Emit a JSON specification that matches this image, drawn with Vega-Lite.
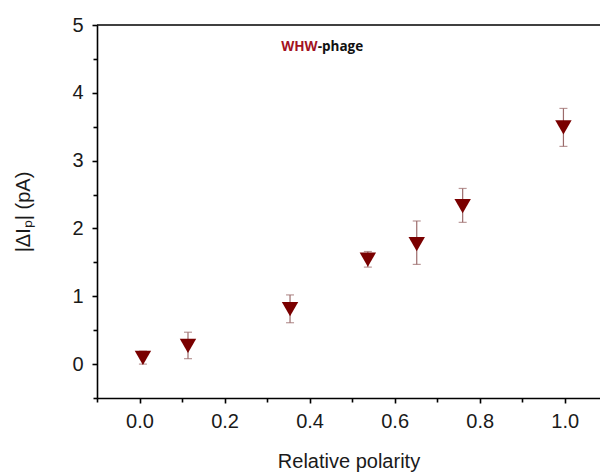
{
  "$schema": "https://vega.github.io/schema/vega-lite/v6.json",
  "width": 503,
  "height": 373,
  "autosize": {"type": "none"},
  "padding": {"left": 97, "top": 25, "right": 0, "bottom": 77},
  "background": "white",
  "config": {
    "view": {"stroke": null},
    "axis": {
      "labelFont": "Liberation Sans",
      "titleFont": "Liberation Sans",
      "labelFontSize": 20,
      "titleFontSize": 20,
      "labelColor": "#1a1a1a",
      "titleColor": "#1a1a1a",
      "titleFontWeight": "normal",
      "domainColor": "#000000",
      "domainWidth": 1.6,
      "tickColor": "#000000",
      "tickWidth": 1.6,
      "tickSize": 5,
      "labelOverlap": false,
      "labelFlush": false,
      "grid": false
    }
  },
  "resolve": {"axis": {"x": "independent", "y": "independent"}},
  "datasets": {
    "pts": [
      {"polarity": 0.008, "dIp": 0.09, "lo": 0.0, "hi": 0.19},
      {"polarity": 0.114, "dIp": 0.27, "lo": 0.08, "hi": 0.47},
      {"polarity": 0.354, "dIp": 0.81, "lo": 0.61, "hi": 1.02},
      {"polarity": 0.537, "dIp": 1.54, "lo": 1.43, "hi": 1.66},
      {"polarity": 0.652, "dIp": 1.77, "lo": 1.47, "hi": 2.11},
      {"polarity": 0.76, "dIp": 2.33, "lo": 2.09, "hi": 2.59},
      {"polarity": 0.997, "dIp": 3.49, "lo": 3.21, "hi": 3.77}
    ],
    "frame": [{"top": 5}]
  },
  "layer": [
    {
      "data": {"name": "pts"},
      "mark": {"type": "rule", "color": "#9b6b6b", "strokeWidth": 1.2},
      "encoding": {
        "x": {
          "field": "polarity", "type": "quantitative",
          "scale": {"domain": [-0.1, 1.083], "nice": false, "zero": false},
          "axis": {
            "orient": "bottom",
            "title": null, "labels": false, "domain": false,
            "values": [-0.1, 0.1, 0.3, 0.5, 0.7, 0.9],
            "tickSize": 4
          }
        },
        "y": {
          "field": "lo", "type": "quantitative",
          "scale": {"domain": [-0.5, 5], "nice": false, "zero": false},
          "axis": {
            "orient": "left",
            "title": null, "labels": false, "domain": false,
            "values": [-0.5, 0.5, 1.5, 2.5, 3.5, 4.5],
            "tickSize": 4
          }
        },
        "y2": {"field": "hi"}
      }
    },
    {
      "data": {"name": "frame"},
      "mark": {"type": "rule", "color": "#000000", "strokeWidth": 1.6},
      "encoding": {"y": {"field": "top", "type": "quantitative", "scale": {"domain": [-0.5, 5], "nice": false, "zero": false}, "axis": null}}
    },
    {
      "data": {"name": "pts"},
      "mark": {"type": "tick", "orient": "horizontal", "color": "#9b6b6b", "size": 8, "thickness": 1.2},
      "encoding": {
        "x": {"field": "polarity", "type": "quantitative", "axis": null},
        "y": {"field": "lo", "type": "quantitative", "axis": null}
      }
    },
    {
      "data": {"name": "pts"},
      "mark": {"type": "tick", "orient": "horizontal", "color": "#9b6b6b", "size": 8, "thickness": 1.2},
      "encoding": {
        "x": {"field": "polarity", "type": "quantitative", "axis": null},
        "y": {"field": "hi", "type": "quantitative", "axis": null}
      }
    },
    {
      "data": {"name": "pts"},
      "mark": {"type": "point", "shape": "triangle-down", "filled": true, "color": "#7a0000", "size": 270, "opacity": 1},
      "encoding": {
        "x": {
          "field": "polarity", "type": "quantitative",
          "scale": {"domain": [-0.1, 1.083], "nice": false, "zero": false},
          "axis": {
            "orient": "bottom",
            "title": "Relative polarity",
            "values": [0, 0.2, 0.4, 0.6, 0.8, 1.0],
            "format": ".1f",
            "labelPadding": 8,
            "titlePadding": 20
          }
        },
        "y": {
          "field": "dIp", "type": "quantitative",
          "scale": {"domain": [-0.5, 5], "nice": false, "zero": false},
          "axis": {
            "orient": "left",
            "title": "|ΔIₚ| (pA)",
            "values": [0, 1, 2, 3, 4, 5],
            "format": "d",
            "labelPadding": 9,
            "titlePadding": 38
          }
        }
      }
    },
    {
      "data": {"values": [{"px": 0.419, "py": 4.67, "label": "WHW"}]},
      "mark": {"type": "text", "align": "right", "baseline": "middle", "font": "Open Sans", "fontWeight": "bold", "fontSize": 13.5, "color": "#a3131f"},
      "encoding": {
        "x": {"field": "px", "type": "quantitative", "axis": null},
        "y": {"field": "py", "type": "quantitative", "axis": null},
        "text": {"field": "label"}
      }
    },
    {
      "data": {"values": [{"px": 0.419, "py": 4.67, "label": "-phage"}]},
      "mark": {"type": "text", "align": "left", "baseline": "middle", "font": "Open Sans", "fontWeight": "bold", "fontSize": 13.5, "color": "#111111"},
      "encoding": {
        "x": {"field": "px", "type": "quantitative", "axis": null},
        "y": {"field": "py", "type": "quantitative", "axis": null},
        "text": {"field": "label"}
      }
    }
  ]
}
